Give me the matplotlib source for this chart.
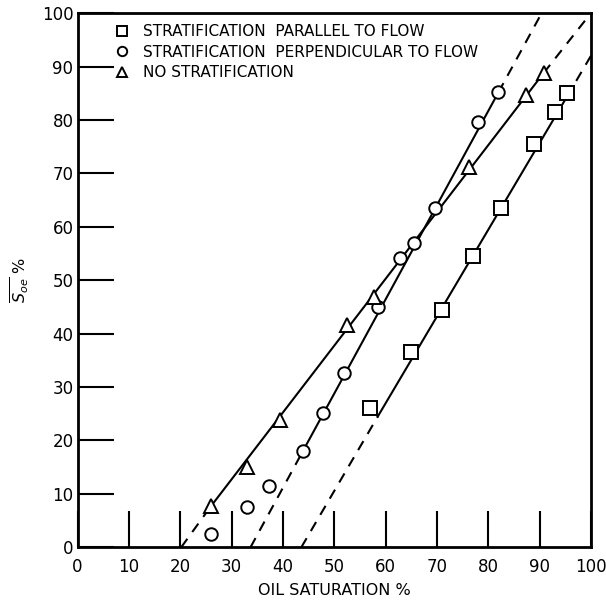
import matplotlib
matplotlib.use('Agg')
import matplotlib.pyplot as plt

# points
sq_x = [57, 65, 71, 77, 82.5, 89, 93, 95.3]
sq_y = [26, 36.5, 44.5, 54.5, 63.5, 75.5, 81.5, 85]

circ_x = [26, 33, 37.3, 43.9, 47.9, 51.9, 58.5, 62.8, 65.5, 69.7, 78, 82]
circ_y = [2.4, 7.5, 11.4, 18, 25.1, 32.6, 44.9, 54.1, 56.9, 63.5, 79.6, 85.2]

tri_x = [26, 33, 39.5, 52.4, 57.8, 76.3, 87.4, 90.8]
tri_y = [7.7, 15, 23.8, 41.6, 46.8, 71.2, 84.6, 88.8]

# fitted lines: dashed start, solid start, solid end, dashed end
sq_line_x = [43.6, 58.5, 95.3, 100]
sq_line_y = [0, 24.5, 84.3, 92]
circ_line_x = [33.7, 43.9, 82, 90.4]
circ_line_y = [0, 18, 85.2, 100]
tri_line_x = [20.2, 26, 90.8, 100]
tri_line_y = [0, 7.7, 88.8, 100]

labels = ['STRATIFICATION  PARALLEL TO FLOW',
          'STRATIFICATION  PERPENDICULAR TO FLOW',
          'NO STRATIFICATION']
ticks = [0, 10, 20, 30, 40, 50, 60, 70, 80, 90, 100]

fig = plt.figure(figsize=(6.06, 6.02), dpi=100)
ax = fig.add_axes([0.128, 0.091, 0.847, 0.887])

for lx, ly in [(sq_line_x, sq_line_y), (circ_line_x, circ_line_y), (tri_line_x, tri_line_y)]:
    ax.plot(lx[:2], ly[:2], color='k', lw=1.5, ls=(0, (5, 4)))
    ax.plot(lx[1:3], ly[1:3], color='k', lw=1.5)
    ax.plot(lx[2:], ly[2:], color='k', lw=1.5, ls=(0, (5, 4)))

mk = dict(ls='none', mfc='white', mec='k', mew=1.4, zorder=3)
h1, = ax.plot(sq_x, sq_y, marker='s', ms=9.5, **mk)
h2, = ax.plot(circ_x, circ_y, marker='o', ms=9, **mk)
h3, = ax.plot(tri_x, tri_y, marker='^', ms=10, **mk)

leg = ax.legend([h1, h2, h3], labels, loc='upper left', bbox_to_anchor=(0.045, 1.005),
                frameon=False, markerscale=0.75, handlelength=1.0, handletextpad=0.9,
                labelspacing=0.35, prop={'size': 11})

ax.set_xlim(0, 100)
ax.set_ylim(0, 100)
ax.set_xticks(ticks)
ax.set_yticks(ticks)
ax.tick_params(direction='in', length=26, width=1.5, labelsize=12)
ax.tick_params(axis='x', pad=8)
ax.tick_params(axis='y', pad=3)
for s in ax.spines.values():
    s.set_linewidth(2)

ax.set_xlabel('OIL SATURATION %', fontsize=11.5, labelpad=5)
ax.set_ylabel(r'$\overline{S_{oe}}$ %', fontsize=11.5, labelpad=8)

plt.savefig('out.png', dpi=100)
